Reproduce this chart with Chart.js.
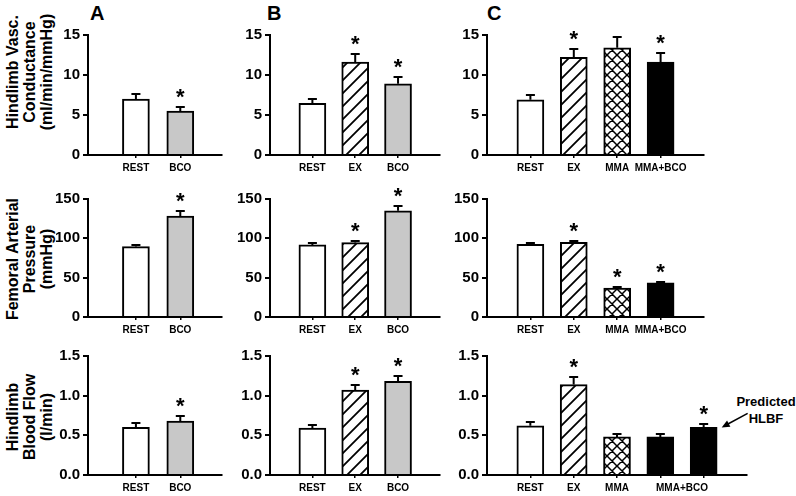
<!DOCTYPE html>
<html>
<head>
<meta charset="utf-8">
<script src="https://cdn.jsdelivr.net/npm/chart.js@4.4.0/dist/chart.umd.min.js"></script>
<style>
body { margin: 0; background: #fff; width: 796px; height: 496px; position: relative; overflow: hidden; font-family: "Liberation Sans", Arial, sans-serif; color: #000; }
canvas { position: absolute; }
.letter { position: absolute; font-weight: bold; font-size: 20px; line-height: 20px; }
.ytitle { position: absolute; font-weight: bold; font-size: 16px; line-height: 17px; text-align: center; white-space: nowrap; transform: translate(-50%, -50%) rotate(-90deg); }
.note { position: absolute; font-weight: bold; font-size: 13px; line-height: 17px; text-align: center; white-space: nowrap; transform: translateX(-50%); }
</style>
</head>
<body>

<div class="letter" style="left:90px;top:3px">A</div>
<div class="letter" style="left:267px;top:3px">B</div>
<div class="letter" style="left:487px;top:3px">C</div>

<div class="ytitle" style="left:29px;top:72px">Hindlimb Vasc.<br>Conductance<br>(ml/min/mmHg)</div>
<div class="ytitle" style="left:29px;top:259px">Femoral Arterial<br>Pressure<br>(mmHg)</div>
<div class="ytitle" style="left:29px;top:417px">Hindlimb<br>Blood Flow<br>(l/min)</div>

<div class="note" style="left:766px;top:393px">Predicted<br>HLBF</div>

<script>
// category labels
const labelsA = ['REST', 'BCO'];
const labelsB = ['REST', 'EX', 'BCO'];
const labelsC = ['REST', 'EX', 'MMA', 'MMA+BCO'];
const labelsC3 = ['REST', 'EX', 'MMA', '', 'MMA+BCO', ''];
const tickPosC3 = [1, 2, 3, 4, 4.5, 5];

// hindlimb vascular conductance (ml/min/mmHg)
const hvcA = [7.0, 5.5],            hvcAErr = [0.6, 0.5],            hvcASig = [0, 1];
const hvcB = [6.45, 11.6, 8.9],     hvcBErr = [0.55, 1.0, 0.9],      hvcBSig = [0, 1, 1];
const hvcC = [6.9, 12.2, 13.4, 11.6], hvcCErr = [0.55, 1.1, 1.4, 1.2], hvcCSig = [0, 1, 0, 1];

// femoral arterial pressure (mmHg)
const fapA = [89.5, 128.4],         fapAErr = [2.0, 6.0],            fapASig = [0, 1];
const fapB = [91.6, 94.6, 135.1],   fapBErr = [2.0, 2.0, 5.8],       fapBSig = [0, 1, 1];
const fapC = [92.5, 95.0, 36.7, 43.5], fapCErr = [1.4, 1.6, 1.3, 1.6], fapCSig = [0, 1, 1, 1];

// hindlimb blood flow (l/min), last C bar = predicted HLBF
const hlbfA = [0.60, 0.68],         hlbfAErr = [0.05, 0.06],         hlbfASig = [0, 1];
const hlbfB = [0.59, 1.07, 1.18],   hlbfBErr = [0.04, 0.07, 0.07],   hlbfBSig = [0, 1, 1];
const hlbfC = [0.62, 1.14, 0.48, 0.48, 0.60], hlbfCErr = [0.05, 0.10, 0.035, 0.04, 0.045], hlbfCSig = [0, 1, 0, 0, 1];

// bar fills per column
const fillsA = ['white', 'gray'];
const fillsB = ['white', 'hatch', 'gray'];
const fillsC = ['white', 'hatch', 'cross', 'black', 'black'];

const FONT = '"Liberation Sans", Arial, sans-serif';

function makePattern(kind) {
    const s = kind == 'hatch' ? 13 : 10;
    const t = document.createElement('canvas');
    t.width = s; t.height = s;
    const g = t.getContext('2d');
    g.fillStyle = '#fff';
    g.fillRect(0, 0, s, s);
    g.strokeStyle = '#000';
    g.lineWidth = kind == 'hatch' ? 1.8 : 1.5;
    g.beginPath();
    g.moveTo(-2, s + 2); g.lineTo(s + 2, -2);
    g.moveTo(-2, 2); g.lineTo(2, -2);
    g.moveTo(s - 2, s + 2); g.lineTo(s + 2, s - 2);
    if (kind == 'cross') {
        g.moveTo(-2, -2); g.lineTo(s + 2, s + 2);
        g.moveTo(s - 2, -2); g.lineTo(s + 2, 2);
        g.moveTo(-2, s - 2); g.lineTo(2, s + 2);
    }
    g.stroke();
    return g.createPattern(t, 'repeat');
}

const fillStyles = {
    white: '#ffffff',
    gray: '#c8c8c8',
    black: '#000000',
    hatch: makePattern('hatch'),
    cross: makePattern('cross'),
};

function panel(p) {
    const yW = 60, padTop = 30, xH = 30, padRight = p.padRight || 8;
    const c = document.createElement('canvas');
    c.width = yW + (p.right - p.left) + padRight;
    c.height = padTop + (p.bottom - p.top) + xH;
    c.style.left = (p.left - yW) + 'px';
    c.style.top = (p.top - padTop) + 'px';
    document.body.appendChild(c);

    const tickPos = p.tickPos || p.values.map((v, i) => i + 1);

    const errorBars = {
        id: 'errorBars',
        afterDatasetsDraw(chart) {
            const ctx = chart.ctx, y = chart.scales.y;
            ctx.save();
            ctx.strokeStyle = '#000';
            ctx.fillStyle = '#000';
            ctx.lineWidth = 2;
            chart.getDatasetMeta(0).data.forEach((bar, i) => {
                const top = Math.round(y.getPixelForValue(p.values[i] + p.errs[i]));
                ctx.beginPath();
                ctx.moveTo(bar.x, bar.y);
                ctx.lineTo(bar.x, top);
                ctx.moveTo(bar.x - 4.5, top);
                ctx.lineTo(bar.x + 4.5, top);
                ctx.stroke();
                if (p.sig[i]) {
                    ctx.font = 'bold 22px ' + FONT;
                    ctx.textAlign = 'center';
                    ctx.textBaseline = 'alphabetic';
                    ctx.fillText('*', bar.x, top - 3);
                }
            });
            if (p.arrow) {
                const bars = chart.getDatasetMeta(0).data;
                const b = bars[bars.length - 1];
                const tx = b.x + 18, ty = b.y, fx = tx + 26, fy = ty - 14;
                const ang = Math.atan2(ty - fy, tx - fx);
                ctx.lineWidth = 1.5;
                ctx.beginPath();
                ctx.moveTo(fx, fy);
                ctx.lineTo(tx - 5 * Math.cos(ang), ty - 5 * Math.sin(ang));
                ctx.stroke();
                ctx.beginPath();
                ctx.moveTo(tx, ty);
                ctx.lineTo(tx - 8 * Math.cos(ang) + 3.5 * Math.sin(ang), ty - 8 * Math.sin(ang) - 3.5 * Math.cos(ang));
                ctx.lineTo(tx - 8 * Math.cos(ang) - 3.5 * Math.sin(ang), ty - 8 * Math.sin(ang) + 3.5 * Math.cos(ang));
                ctx.closePath();
                ctx.fill();
            }
            ctx.restore();
        }
    };

    new Chart(c, {
        type: 'bar',
        data: {
            datasets: [{
                data: p.values.map((v, i) => ({ x: i + 1, y: v })),
                backgroundColor: p.fills.slice(0, p.values.length).map(f => fillStyles[f]),
                borderColor: '#000',
                borderWidth: 2,
                borderSkipped: 'start',
                barThickness: 27,
            }]
        },
        options: {
            responsive: false,
            animation: false,
            devicePixelRatio: 1,
            layout: { padding: { top: padTop, right: padRight, left: 0, bottom: 0 } },
            plugins: { legend: { display: false }, tooltip: { enabled: false } },
            scales: {
                x: {
                    type: 'linear',
                    offset: false,
                    min: p.xMin,
                    max: p.xMax,
                    afterBuildTicks: s => { s.ticks = tickPos.map(v => ({ value: v })); },
                    afterFit: s => { s.height = xH; },
                    grid: {
                        offset: false,
                        drawOnChartArea: false,
                        tickLength: 3,
                        lineWidth: 1.5,
                        color: ctx => (ctx.tick && ctx.tick.value % 1) ? 'rgba(0,0,0,0)' : '#000',
                    },
                    border: { display: true, color: '#000', width: 2 },
                    ticks: {
                        autoSkip: false,
                        maxRotation: 0,
                        padding: 4,
                        color: '#000',
                        font: { family: FONT, weight: 'bold', size: 10 },
                        callback: (v, i) => p.labels[i],
                    },
                },
                y: {
                    min: 0,
                    max: p.yMax,
                    afterFit: s => { s.width = yW; },
                    grid: { drawOnChartArea: false, tickLength: 5, lineWidth: 2, color: '#000' },
                    border: { display: true, color: '#000', width: 2 },
                    ticks: {
                        stepSize: p.yStep,
                        padding: 3,
                        color: '#000',
                        font: { family: FONT, weight: 'bold', size: 15 },
                        callback: v => v.toFixed(p.dec || 0),
                    },
                },
            },
        },
        plugins: [errorBars],
    });
}

const colA = { left: 88, right: 222, xMin: -0.08, xMax: 2.94, fills: fillsA, labels: labelsA };
const colB = { left: 270, right: 440, xMin: 0.01, xMax: 3.98, fills: fillsB, labels: labelsB };
const colC = { left: 487, right: 704, xMin: 0, xMax: 5, fills: fillsC, labels: labelsC };
const row1 = { top: 35, bottom: 155, yMax: 15, yStep: 5 };
const row2 = { top: 199, bottom: 317, yMax: 150, yStep: 50 };
const row3 = { top: 356, bottom: 475, yMax: 1.5, yStep: 0.5, dec: 1 };

panel({ ...colA, ...row1, values: hvcA, errs: hvcAErr, sig: hvcASig });
panel({ ...colB, ...row1, values: hvcB, errs: hvcBErr, sig: hvcBSig });
panel({ ...colC, ...row1, values: hvcC, errs: hvcCErr, sig: hvcCSig });

panel({ ...colA, ...row2, values: fapA, errs: fapAErr, sig: fapASig });
panel({ ...colB, ...row2, values: fapB, errs: fapBErr, sig: fapBSig });
panel({ ...colC, ...row2, values: fapC, errs: fapCErr, sig: fapCSig });

panel({ ...colA, ...row3, values: hlbfA, errs: hlbfAErr, sig: hlbfASig });
panel({ ...colB, ...row3, values: hlbfB, errs: hlbfBErr, sig: hlbfBSig });
panel({ ...colC, ...row3, right: 747, xMax: 6, padRight: 40, labels: labelsC3, tickPos: tickPosC3,
        values: hlbfC, errs: hlbfCErr, sig: hlbfCSig, arrow: true });
</script>
</body>
</html>
